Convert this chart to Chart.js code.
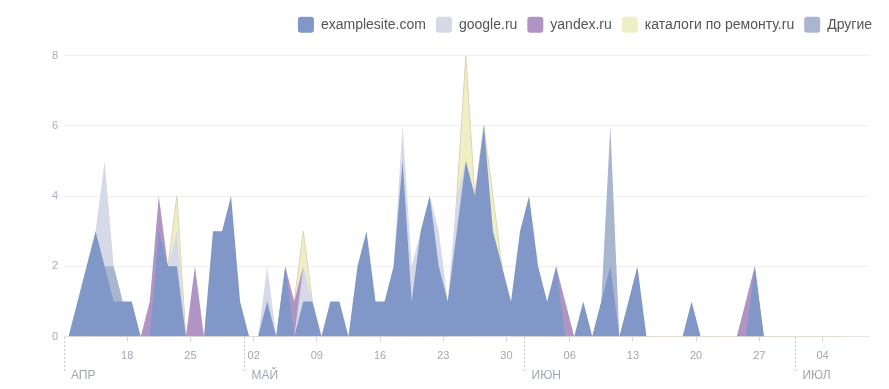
<!DOCTYPE html>
<html>
<head>
<meta charset="utf-8">
<script src="https://cdn.jsdelivr.net/npm/chart.js@4.4.1/dist/chart.umd.min.js"></script>
<style>
  html, body { margin: 0; padding: 0; background: #fff; }
</style>
</head>
<body>
<canvas id="chart" width="889" height="389"></canvas>
<script>
const FONT = "'Liberation Sans', Arial, sans-serif";

// one value per day, starting 11 April
const seriesNames = ["examplesite.com", "google.ru", "yandex.ru", "каталоги по ремонту.ru", "Другие"];

const comData = [
  0, 1, 2, 3, 2, 1, 1, 1, 0, 0,
  3, 2, 2, 0, 0, 0, 3, 3, 4, 1,
  0, 0, 1, 0, 2, 0, 1, 1, 0, 1,
  1, 0, 2, 3, 1, 1, 2, 5, 1, 3,
  4, 2, 1, 3, 5, 4, 6, 3, 2, 1,
  3, 4, 2, 1, 2, 0, 0, 1, 0, 1,
  2, 0, 1, 2, 0, 0, 0, 0, 0, 1,
  0, 0, 0, 0, 0, 0, 2, 0, 0, 0,
  0, 0, 0, 0, 0, 0, 0
];
const googleData = [
  0, 0, 0, 3, 5, 2, 1, 0, 0, 0,
  0, 2, 3, 0, 0, 0, 0, 0, 0, 0,
  0, 0, 2, 0, 0, 0, 2, 1, 0, 0,
  0, 0, 0, 0, 0, 0, 2, 6, 2, 3,
  4, 3, 1, 4, 5, 0, 0, 0, 0, 0,
  0, 0, 0, 0, 0, 0, 0, 0, 0, 0,
  0, 0, 0, 0, 0, 0, 0, 0, 0, 0,
  0, 0, 0, 0, 0, 0, 0, 0, 0, 0,
  0, 0, 0, 0, 0, 0, 0
];
const yandexData = [
  0, 0, 0, 0, 0, 0, 0, 0, 0, 1,
  4, 2, 0, 0, 2, 0, 0, 0, 0, 0,
  0, 0, 0, 0, 2, 1, 2, 0, 0, 0,
  0, 0, 0, 0, 0, 0, 0, 0, 0, 0,
  0, 0, 0, 0, 0, 0, 0, 0, 0, 0,
  0, 0, 0, 0, 2, 1, 0, 0, 0, 0,
  0, 0, 0, 0, 0, 0, 0, 0, 0, 0,
  0, 0, 0, 0, 0, 1, 2, 0, 0, 0,
  0, 0, 0, 0, 0, 0, 0
];
const catalogData = [
  0, 0, 0, 0, 0, 0, 0, 0, 0, 0,
  0, 2, 4, 0, 0, 0, 0, 0, 0, 0,
  0, 0, 0, 0, 0, 1, 3, 1, 0, 0,
  0, 0, 0, 0, 0, 0, 0, 0, 0, 0,
  0, 0, 0, 4, 8, 4, 6, 4, 2, 0,
  0, 0, 0, 0, 0, 0, 0, 0, 0, 0,
  0, 0, 0, 0, 0, 0, 0, 0, 0, 0,
  0, 0, 0, 0, 0, 0, 0, 0, 0, 0,
  0, 0, 0, 0, 0, 0, 0
];
const otherData = [
  0, 0, 0, 0, 2, 2, 1, 0, 0, 0,
  0, 0, 0, 0, 0, 0, 0, 0, 0, 0,
  0, 0, 0, 0, 0, 0, 0, 0, 0, 0,
  0, 0, 0, 0, 0, 0, 0, 0, 0, 0,
  0, 0, 0, 0, 0, 0, 0, 0, 0, 0,
  0, 0, 0, 0, 0, 0, 0, 0, 0, 1,
  6, 0, 0, 0, 0, 0, 0, 0, 0, 0,
  0, 0, 0, 0, 0, 0, 0, 0, 0, 0,
  0, 0, 0, 0, 0, 0, 0
];

// week ticks (day number from 11 April) and month starts
const weekTickDays = [7, 14, 21, 28, 35, 42, 49, 56, 63, 70, 77, 84];
const weekTickLabels = ["18", "25", "02", "09", "16", "23", "30", "06", "13", "20", "27", "04"];
const monthTickDays = [0, 20, 51, 81];
const monthTickLabels = ["АПР", "МАЙ", "ИЮН", "ИЮЛ"];
const AXIS_DAYS = 89.2;

const toPoints = arr => arr.map((v, i) => ({ x: i + 0.5, y: v }));

const area = (label, data, color, order, border) => ({
  label,
  data: toPoints(data),
  backgroundColor: color,
  borderColor: border || "rgba(0,0,0,0)",
  borderWidth: border ? 1 : 0,
  fill: "origin",
  pointRadius: 0,
  pointHoverRadius: 0,
  tension: 0,
  order,
});

const datasets = [
  area(seriesNames[0], comData, "#8097c8", 0),
  area(seriesNames[1], googleData, "#d5d9e8", 2),
  area(seriesNames[2], yandexData, "#b094c3", 3),
  area(seriesNames[3], catalogData, "#f0eec5", 4, "#ddd4b6"),
  area(seriesNames[4], otherData, "#a8b6d0", 1),
];

// legend: keep dataset order, let it run to the right edge, add space under it
const legendTweak = {
  id: "legendTweak",
  beforeInit(chart) {
    const lg = chart.legend;
    if (!lg) return;
    const fit = lg.fit;
    lg.fit = function () {
      fit.bind(lg)();
      this.height += 12.8;
    };
  },
  afterLayout(chart) {
    if (chart.legend) chart.legend.right = 882;
  },
};

const tickFont = { family: FONT, size: 11 };

new Chart(document.getElementById("chart"), {
  type: "line",
  data: { datasets },
  plugins: [legendTweak],
  options: {
    responsive: false,
    animation: false,
    events: [],
    layout: { padding: { top: 6.7, right: 19.5, bottom: 0, left: 0 } },
    plugins: {
      tooltip: { enabled: false },
      legend: {
        position: "top",
        align: "end",
        labels: {
          boxWidth: 16,
          boxHeight: 16,
          useBorderRadius: true,
          borderRadius: 3,
          padding: 10,
          color: "#555",
          font: { family: FONT, size: 14 },
          sort: (a, b) => a.datasetIndex - b.datasetIndex,
          generateLabels: chart =>
            Chart.defaults.plugins.legend.labels.generateLabels(chart).map(l => ({
              ...l, lineWidth: 0, strokeStyle: l.fillStyle,
            })),
        },
      },
    },
    scales: {
      x: {
        type: "linear",
        position: "bottom",
        min: 0,
        max: AXIS_DAYS,
        afterBuildTicks: s => { s.ticks = weekTickDays.map(v => ({ value: v })); },
        afterFit: s => { s.height = 52.5; },
        ticks: {
          autoSkip: false,
          maxRotation: 0,
          padding: 8,
          color: "#a3a6b4",
          font: tickFont,
          callback: (v, i) => weekTickLabels[i],
        },
        grid: { drawOnChartArea: false, drawTicks: true, tickLength: 5, tickColor: "#d3d4db" },
        border: { display: true, color: "#e6e6ea" },
      },
      months: {
        type: "linear",
        axis: "x",
        position: { y: 0 },
        min: 0,
        max: AXIS_DAYS,
        afterBuildTicks: s => { s.ticks = monthTickDays.map(v => ({ value: v })); },
        ticks: {
          autoSkip: false,
          maxRotation: 0,
          align: "start",
          labelOffset: 7,
          padding: -3,
          color: "#a3a6b4",
          font: { family: FONT, size: 12 },
          callback: (v, i) => monthTickLabels[i],
        },
        grid: {
          drawOnChartArea: false,
          tickLength: 35,
          tickColor: "#c9cad3",
          tickBorderDash: [2, 2],
        },
        border: { display: false },
      },
      y: {
        min: 0,
        max: 8,
        afterFit: s => { s.width = 64; },
        ticks: { stepSize: 2, padding: 6, color: "#a9acb9", font: tickFont },
        grid: { color: "#efeff2", drawTicks: false },
        border: { display: false },
      },
    },
  },
});
</script>
</body>
</html>
